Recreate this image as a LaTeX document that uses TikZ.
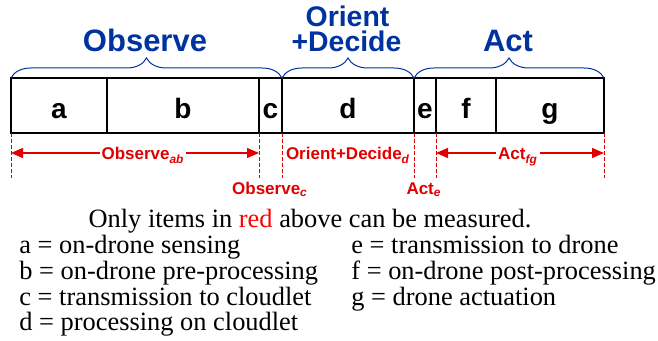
\documentclass[tikz,border=0pt]{standalone}
\usepackage{fontspec}
\setmainfont{Liberation Serif}
\setsansfont{Liberation Sans}
\usetikzlibrary{calc, positioning}
\usetikzlibrary{arrows.meta}
\usetikzlibrary{decorations.pathreplacing}

\definecolor{phaseblue}{RGB}{0,51,160}
\definecolor{measred}{RGB}{225,0,0}

\begin{document}
\begin{tikzpicture}[x=0.5pt, y=-0.5pt,
  seg/.style={line width=1pt},
  segtext/.style={font=\sffamily\bfseries\fontsize{14}{14}\selectfont, anchor=base, inner sep=0pt},
  phase/.style={font=\sffamily\bfseries\fontsize{15.5}{15.5}\selectfont, text=phaseblue, anchor=base, inner sep=0pt},
  brc/.style={draw=phaseblue, line width=0.5pt, decorate, decoration={brace, amplitude=10pt}},
  meas/.style={font=\sffamily\bfseries\fontsize{8.5}{8.5}\selectfont, text=measred, anchor=base, inner sep=1pt},
  guide/.style={draw=measred, dash pattern=on 2pt off 1pt, line width=0.5pt},
  span/.style={draw=measred, line width=0.6pt, {Triangle[length=6pt,width=5pt]}-{Triangle[length=6pt,width=5pt]}},
  legend/.style={font=\fontsize{13.2}{13.2}\selectfont, anchor=base west, inner sep=0pt}
]
\useasboundingbox (0,0) rectangle (658,341);
\def\ytop{78}
\def\ybot{133}
\def\yguide{178}
\def\yspan{153}

% segment boundaries
\coordinate (Ta) at (11,\ytop);
\coordinate (Tb) at (107,\ytop);
\coordinate (Tc) at (259,\ytop);
\coordinate (Td) at (282,\ytop);
\coordinate (Te) at (414,\ytop);
\coordinate (Tf) at (436,\ytop);
\coordinate (Tg) at (496,\ytop);
\coordinate (Tz) at (604,\ytop);
\coordinate (Ba) at (11,\ybot);
\coordinate (Bb) at (107,\ybot);
\coordinate (Bc) at (259,\ybot);
\coordinate (Bd) at (282,\ybot);
\coordinate (Be) at (414,\ybot);
\coordinate (Bf) at (436,\ybot);
\coordinate (Bg) at (496,\ybot);
\coordinate (Bz) at (604,\ybot);

% the bar
\draw[seg] (Ta) rectangle (Bz);
\draw[seg] (Tb) -- (Bb);
\draw[seg] (Tc) -- (Bc);
\draw[seg] (Td) -- (Bd);
\draw[seg] (Te) -- (Be);
\draw[seg] (Tf) -- (Bf);
\draw[seg] (Tg) -- (Bg);

\node[segtext] (la) at (59,119) {a};
\node[segtext] (lb) at (183,119) {b};
\node[segtext] (lc) at (270.5,119) {c};
\node[segtext] (ld) at (348,119) {d};
\node[segtext] (le) at (425,119) {e};
\node[segtext] (lf) at (466,119) {f};
\node[segtext] (lg) at (550,119) {g};

% phases
\draw[brc] (Ta) -- (Td);
\draw[brc] (Td) -- (Te);
\draw[brc] (Te) -- (Tz);
\node[phase] (observe) at (145,52) {Observe};
\node[phase, font=\sffamily\bfseries\fontsize{14.2}{14.2}\selectfont] (orient) at (347.5,27) {Orient};
\node[phase, font=\sffamily\bfseries\fontsize{14.2}{14.2}\selectfont] (decide) at (346.5,52) {+Decide};
\node[phase] (act) at (508,52) {Act};

% what can be measured
\coordinate (Ga) at (11,\yguide);
\coordinate (Gc) at (259,\yguide);
\coordinate (Gd) at (282,\yguide);
\coordinate (Ge) at (414,\yguide);
\coordinate (Gf) at (436,\yguide);
\coordinate (Gz) at (604,\yguide);
\draw[guide] (Ba) -- (Ga);
\draw[guide] (Bc) -- (Gc);
\draw[guide] (Bd) -- (Gd);
\draw[guide] (Be) -- (Ge);
\draw[guide] (Bf) -- (Gf);
\draw[guide] (Bz) -- (Gz);

\coordinate (Sa) at (11,\yspan);
\coordinate (Sc) at (259,\yspan);
\coordinate (Sf) at (436,\yspan);
\coordinate (Sz) at (604,\yspan);
\draw[span] (Sa) -- (Sc);
\draw[span] (Sf) -- (Sz);

\node[meas, fill=white] (mab) at (143,160) {Observe\textsubscript{\itshape ab}};
\node[meas] (md) at (348,160) {Orient+Decide\textsubscript{\itshape d}};
\node[meas, fill=white] (mfg) at (518,160) {Act\textsubscript{\itshape fg}};
\node[meas] (mc) at (270,195) {Observe\textsubscript{\itshape c}};
\node[meas] (me) at (424,195) {Act\textsubscript{\itshape e}};

% legend
\node[legend, anchor=base] (note) at (310,228) {Only items in \textcolor{red}{red} above can be measured.};
\node[legend] (lega) at (19,254) {a = on-drone sensing};
\node[legend] (legb) at (19,280) {b = on-drone pre-processing};
\node[legend] (legc) at (19,306) {c = transmission to cloudlet};
\node[legend] (legd) at (19,331) {d = processing on cloudlet};
\node[legend] (lege) at (351,254) {e = transmission to drone};
\node[legend] (legf) at (351,280) {f = on-drone post-processing};
\node[legend] (legg) at (351,306) {g = drone actuation};
\end{tikzpicture}
\end{document}
